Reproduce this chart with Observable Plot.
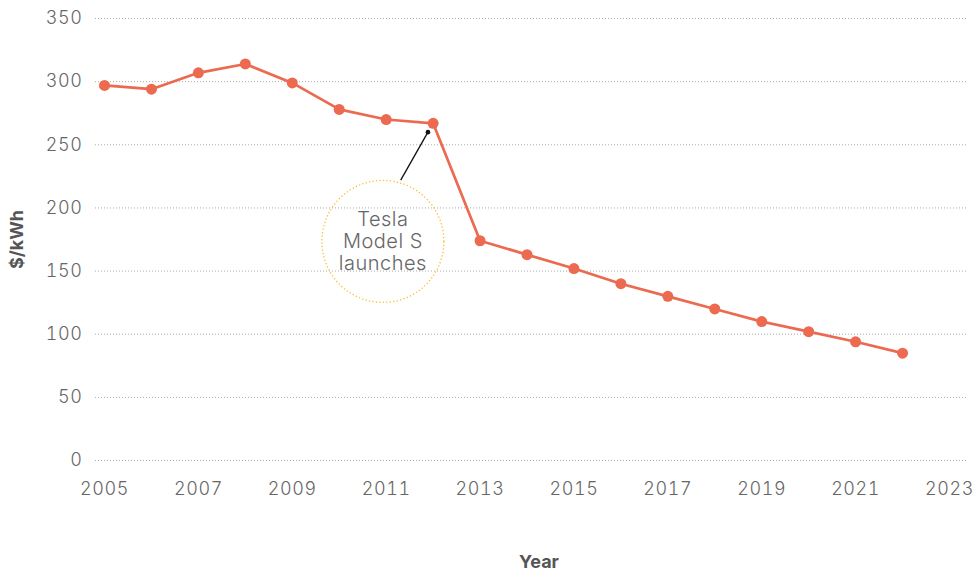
<!DOCTYPE html>
<html>
<head>
<meta charset="utf-8">
<script src="https://cdn.jsdelivr.net/npm/d3@7"></script>
<script src="https://cdn.jsdelivr.net/npm/@observablehq/plot@0.6"></script>
<style>
  html, body { margin: 0; padding: 0; background: #fff; }
  #chart { width: 975px; height: 575px; }
  #chart svg g[aria-label="x-axis tick label"] text,
  #chart svg g[aria-label="y-axis tick label"] text { letter-spacing: 0.6px; }
  #chart svg g[aria-label="text"] text { letter-spacing: 0.5px; }
</style>
</head>
<body>
<div id="chart"></div>
<script>
const years = [2005, 2006, 2007, 2008, 2009, 2010, 2011, 2012, 2013, 2014, 2015, 2016, 2017, 2018, 2019, 2020, 2021, 2022];
const prices = [297, 294, 307, 314, 299, 278, 270, 267, 174, 163, 152, 140, 130, 120, 110, 102, 94, 85];
const xTicks = [2005, 2007, 2009, 2011, 2013, 2015, 2017, 2019, 2021, 2023];
const yTicks = [0, 50, 100, 150, 200, 250, 300, 350];
const noteText = ["Tesla\nModel S\nlaunches"];
const noteCenter = [{year: 2010.93, value: 173.5}];
const notePointer = [{x1: 2011.31, y1: 222, x2: 2011.89, y2: 260}];

const data = years.map((y, i) => ({year: y, value: prices[i]}));
const font = "Inter, 'Open Sans', sans-serif";
const lineColor = "#ec6a4f";

const chart = Plot.plot({
  width: 975,
  height: 575,
  marginTop: 18,
  marginBottom: 115,
  marginLeft: 95,
  marginRight: 7,
  style: {fontFamily: font, fontSize: "18px", color: "#666", background: "#fff"},
  x: {domain: [2005, 2023], insetLeft: 9, insetRight: 19},
  y: {domain: [0, 350]},
  marks: [
    Plot.gridY(yTicks, {stroke: "#aaa", strokeOpacity: 1, strokeDasharray: "1,2", strokeWidth: 1}),
    Plot.axisY(yTicks, {tickSize: 0, tickPadding: 13, fontSize: 18, fill: "#666", fontWeight: 300,
      label: "$/kWh", labelAnchor: "center", labelArrow: "none", labelOffset: 85}),
    Plot.axisX(xTicks, {tickSize: 0, tickPadding: 22, fontSize: 18, fill: "#666", fontWeight: 300, tickFormat: d => String(d),
      label: "Year", labelAnchor: "center", labelArrow: "none", labelOffset: 107}),
    Plot.dot(noteCenter, {x: "year", y: "value", r: 61, fill: "none", stroke: "#f6c12f", strokeWidth: 1.3, strokeDasharray: "1.3,2.2"}),
    Plot.text(noteCenter, {x: "year", y: "value", text: () => noteText[0], fill: "#666", fontSize: 20, fontWeight: 300, lineHeight: 1.1, fontFamily: font}),
    Plot.link(notePointer, {x1: "x1", y1: "y1", x2: "x2", y2: "y2", stroke: "#111", strokeWidth: 1.3}),
    Plot.dot(notePointer, {x: "x2", y: "y2", r: 2.3, fill: "#111"}),
    Plot.line(data, {x: "year", y: "value", stroke: lineColor, strokeWidth: 2.7}),
    Plot.dot(data, {x: "year", y: "value", r: 5.5, fill: lineColor})
  ]
});
// bold axis labels
chart.querySelectorAll("g[aria-label='y-axis label'] text, g[aria-label='x-axis label'] text").forEach(t => {
  t.setAttribute("font-weight", "bold");
  t.setAttribute("fill", "#555");
});
chart.querySelectorAll("g[aria-label='x-axis label'] text").forEach(t => {
  t.setAttribute("dx", "7");
});
document.getElementById("chart").appendChild(chart);
</script>
</body>
</html>
